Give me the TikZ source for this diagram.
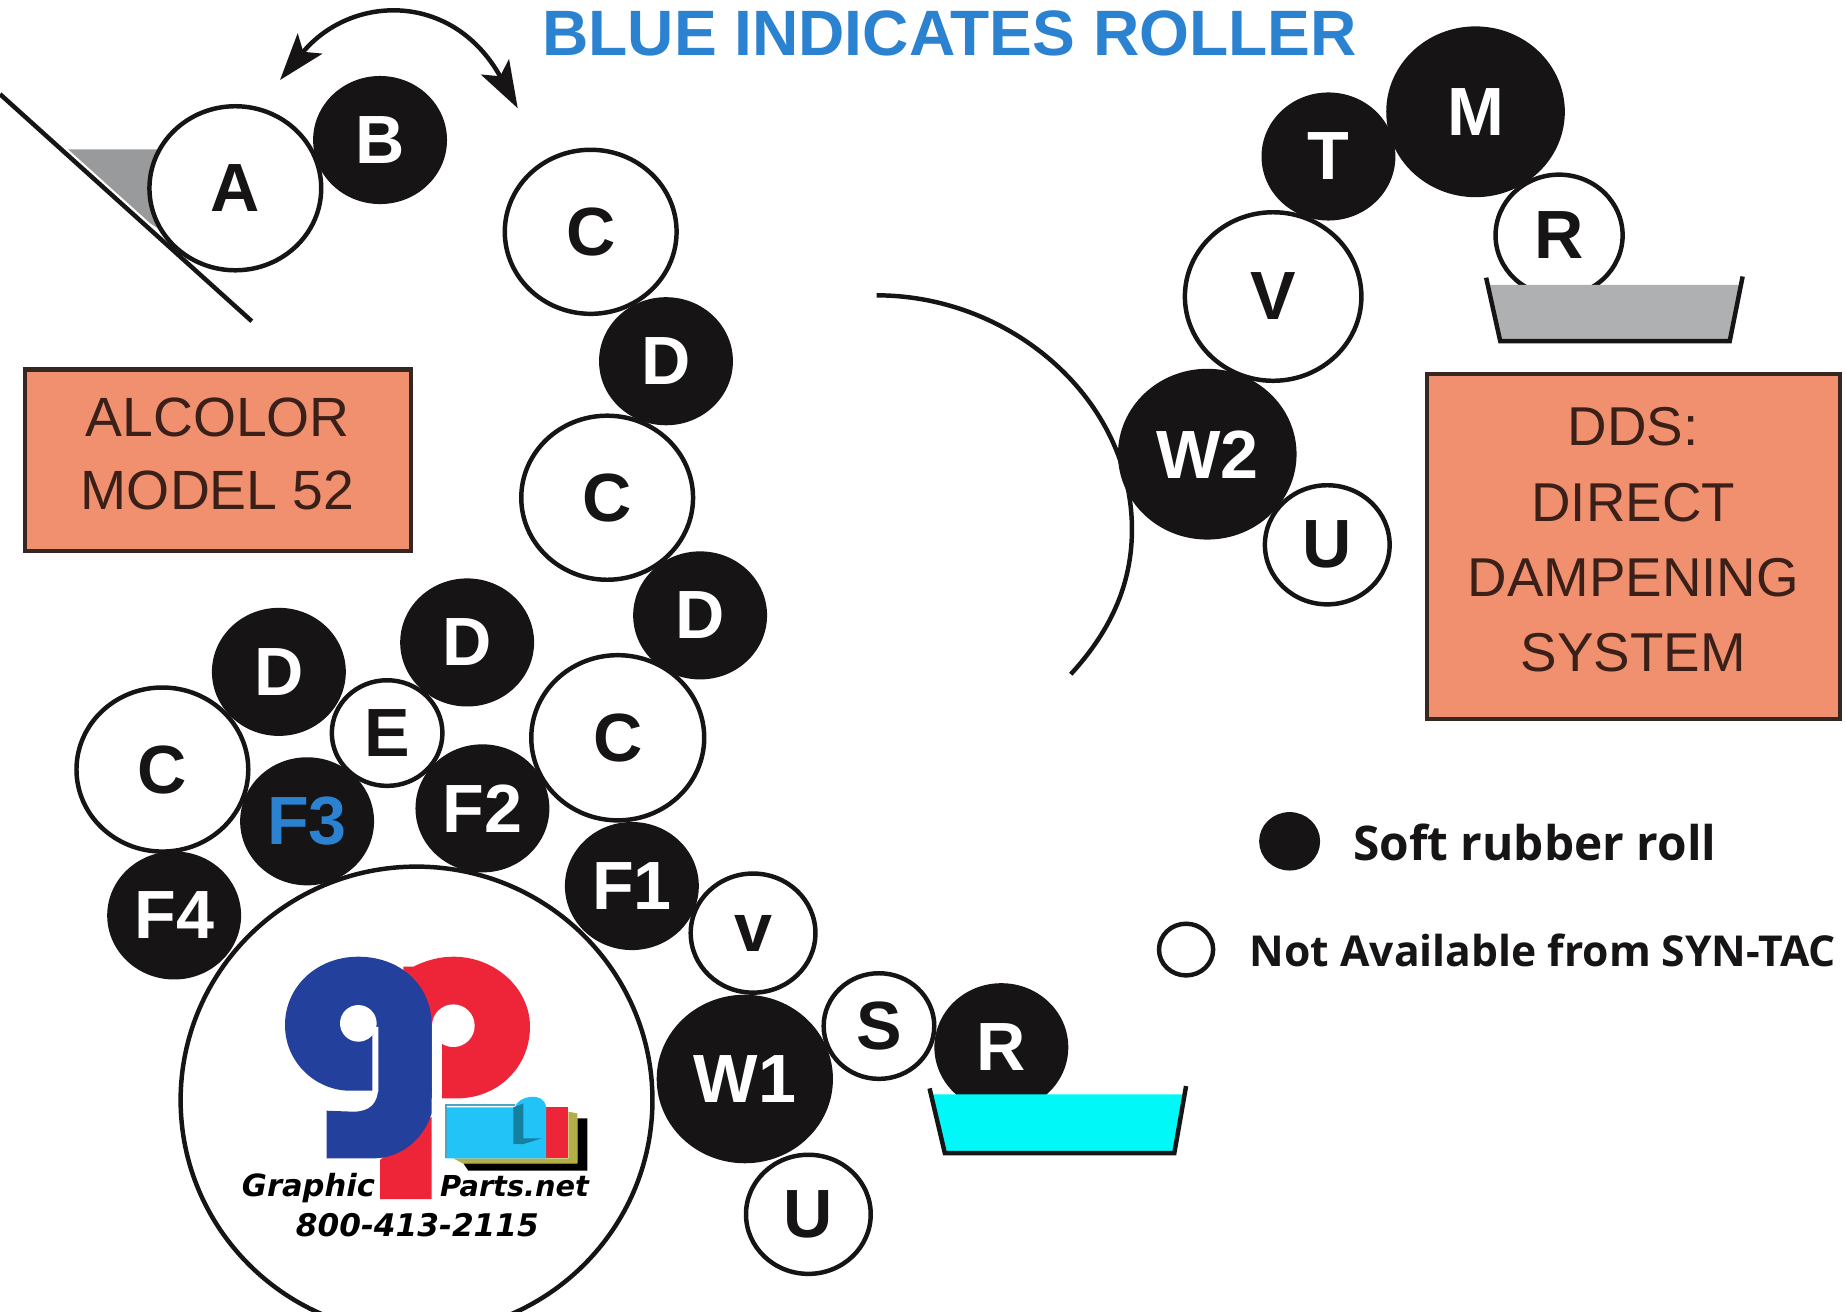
\documentclass[tikz,border=0pt]{standalone}
\usepackage{fontspec}
\setmainfont{Liberation Sans}
\newfontfamily\legendfont{Open Sans}
\newfontfamily\logofont{DejaVu Sans}
\usetikzlibrary{arrows.meta,shapes.geometric}
\definecolor{boxfill}{HTML}{F0906F}
\definecolor{boxtext}{HTML}{3A2018}
\definecolor{titleblue}{HTML}{2A82D0}
\definecolor{rollblack}{HTML}{161414}
\definecolor{logoblue}{HTML}{22409C}
\definecolor{logored}{HTML}{EE2438}
\definecolor{logocyan}{HTML}{22C4F8}
\definecolor{traycyan}{HTML}{00F8F8}
\definecolor{traygray}{HTML}{AEB0B2}
\definecolor{bladegray}{HTML}{999A9C}
\tikzset{
  rollbase/.style={ellipse,inner sep=0pt,outer sep=0pt,line width=3.8pt,font=\fontsize{58}{58}\selectfont\bfseries},
  rs/.style={minimum width=#1 pt,minimum height=0.955*#1 pt},
  whiteroll/.style={rollbase,draw=rollblack,fill=white,text=rollblack},
  blackroll/.style={rollbase,draw=rollblack,fill=rollblack,text=white},
  labelbox/.style={draw=rollblack!85!boxfill,fill=boxfill,line width=3.6pt,inner sep=0pt},
  boxlabel/.style={text=boxtext,align=center,inner sep=0pt},
  thickline/.style={draw=rollblack,line width=3.8pt},
  tray/.style={draw=rollblack,line width=3.8pt,line join=miter},
  logotext/.style={font=\logofont\fontsize{25}{25}\selectfont\bfseries\itshape,text=black,inner sep=0pt},
  legendtext/.style={text=rollblack,anchor=west,inner sep=0pt}
}
\begin{document}
\begin{tikzpicture}[x=1pt,y=-1pt]
\useasboundingbox (0,0) rectangle (1568,1115);
\fill[white] (0,0) rectangle (1568,1115);

% title
\node[font=\fontsize{54.5}{54.5}\selectfont\bfseries,text=titleblue,inner sep=0pt] (title) at (807,28) {BLUE INDICATES ROLLER};

% blade and arrow
\fill[bladegray] (58,127) -- (140,127) -- (140,198) -- (128,190) -- cycle;
\draw[thickline] (0,80) -- (214,273);
\draw[thickline,{Stealth[length=40pt,width=27pt,inset=9pt]}-{Stealth[length=40pt,width=27pt,inset=9pt]}]
  (238,68) .. controls (298,-5) and (385,-8) .. (440,92);

% rollers behind the logo roller
\node[whiteroll,rs=146] (C4) at (138,654) {C};
\node[blackroll,rs=110] (F4) at (148,778) {F4};
\node[blackroll,rs=110,text=titleblue] (F3) at (261,698) {F3};
\node[whiteroll,rs=94] (E) at (329,623) {E};
\node[blackroll,rs=110] (D3) at (397,546) {D};
\node[blackroll,rs=110] (D4) at (237,571) {D};
\node[blackroll,rs=110] (F2) at (410,687) {F2};

% logo roller
\node[whiteroll,minimum width=401pt,minimum height=397pt] (big) at (354,935) {};
\begin{scope}[shift={(144.47,764.9)},x=0.2833pt,y=-0.2833pt]
  % red p
  \fill[logored] (700,200) -- (730,200) .. controls (770,180) and (810,170) .. (850,170)
     .. controls (975,170) and (1080,265) .. (1080,380)
     .. controls (1080,500) and (985,595) .. (860,595) -- (700,595) -- cycle;
  \fill[logored] (630,780) -- (785,650) -- (785,897) -- (630,897) -- cycle;
  \fill[white] (850,377) circle[radius=64];
  \fill[white] (785,377) rectangle (815,900);
  % blue g
  \fill[logoblue] (785,375) .. controls (785,255) and (690,170) .. (565,170)
     .. controls (440,170) and (345,260) .. (345,375)
     .. controls (345,490) and (440,572) .. (540,572) -- (785,572) -- cycle;
  \fill[logoblue] (785,560) -- (785,640) .. controls (760,720) and (690,775) .. (610,775)
     -- (470,775) -- (470,632) -- (550,635) .. controls (600,635) and (625,610) .. (625,560) -- cycle;
  \fill[white] (565,370) circle[radius=55];
  \fill[white] (565,390) -- (607,390) -- (607,575) -- (625,575) -- (625,380) -- cycle;
  % sheets
  \fill[black] (880,790) -- (1222,790) -- (1222,655) -- (1252,655) -- (1252,812) -- (895,812) -- cycle;
  \fill[olive!45!yellow!60!gray] (850,775) -- (1195,775) -- (1195,635) -- (1222,640) -- (1222,790) -- (878,790) -- cycle;
  \fill[logored] (1125,620) -- (1195,620) -- (1195,775) -- (1125,775) -- cycle;
  \fill[logocyan] (828,622) -- (1035,622) .. controls (1040,590) and (1120,570) .. (1128,620) -- (1128,775) -- (828,775) -- cycle;
  \fill[logocyan!65!black] (1030,622) -- (1060,610) -- (1060,715) -- (1115,715) -- (1060,732) -- (1030,732) -- cycle;
  \draw[logocyan!55!gray,line width=1.5pt] (828,775) -- (828,615) -- (1035,615);
  % text
  \node[logotext,font=\logofont\fontsize{26}{26}\selectfont\bfseries\itshape,anchor=base west] (gtext) at (215,890) {Graphic};
  \node[logotext,font=\logofont\fontsize{24.5}{25}\selectfont\bfseries\itshape,anchor=base west] (ptext) at (810,890) {Parts.net};
  \node[logotext,font=\logofont\fontsize{26.5}{26}\selectfont\bfseries\itshape,anchor=base] (phone) at (742,1010) {800-413-2115};
\end{scope}

% remaining left rollers
\node[whiteroll,rs=146] (A) at (200,160) {A};
\node[blackroll,rs=110] (B) at (323,119) {B};
\node[whiteroll,rs=146] (C1) at (502,197) {C};
\node[blackroll,rs=110] (D1) at (566,307) {D};
\node[whiteroll,rs=146] (C2) at (516,423) {C};
\node[whiteroll,rs=147] (C3) at (525,627) {C};
\node[blackroll,rs=110] (D2) at (595,523) {D};
\node[blackroll,rs=110] (F1) at (537,753) {F1};
\node[blackroll,rs=110] (R1) at (851,890) {R};
\node[blackroll,rs=146] (W1) at (633,917) {W1};
\node[whiteroll,rs=106] (v) at (640,793) {v};
\node[whiteroll,rs=106] (U1) at (687,1032) {U};
\node[whiteroll,rs=94] (S) at (747,872) {S};

% cyan tray
\path[fill=traycyan] (792,930) -- (805,980) -- (998,980) -- (1006,930) -- cycle;
\draw[tray] (790,925) -- (803,980) -- (998,980) -- (1008,923);

% right rollers
\draw[thickline] (745,251) .. controls (860,251) and (962,340) .. (962,450) .. controls (962,495) and (945,535) .. (910,573);
\node[blackroll,rs=148] (W2) at (1026,386) {W2};
\node[whiteroll,rs=150] (V) at (1082,252) {V};
\node[whiteroll,rs=106] (U2) at (1128,463) {U};
\node[blackroll,rs=110] (T) at (1129,133) {T};
\node[blackroll,rs=148] (M) at (1254,95) {M};
\node[whiteroll,rs=108] (R2) at (1325,200) {R};

% grey tray
\path[fill=traygray] (1265,242) -- (1275,290) -- (1470,290) -- (1479,242) -- cycle;
\draw[tray] (1263,236) -- (1275,290) -- (1470,290) -- (1481,235);

% boxes
\node[labelbox,minimum width=328pt,minimum height=154pt] (alcolor) at (185,391) {};
\node[boxlabel,font=\fontsize{47}{62}\selectfont] (alcolortext) at (185,386) {ALCOLOR\\MODEL 52};
\node[labelbox,minimum width=351pt,minimum height=293pt] (dds) at (1388.5,464.5) {};
\node[boxlabel,font=\fontsize{46.5}{64}\selectfont] (ddstext) at (1388,459) {DDS:\\DIRECT\\DAMPENING\\SYSTEM};

% legend
\node[blackroll,rs=48] (lb) at (1096,715) {};
\node[whiteroll,rs=46] (lw) at (1008,807) {};
\node[legendtext,font=\legendfont\fontsize{40.6}{41}\selectfont\bfseries] (lbt) at (1150,716) {Soft rubber roll};
\node[legendtext,font=\legendfont\fontsize{36.2}{37}\selectfont\bfseries] (lwt) at (1062,808) {Not Available from SYN-TAC};
\end{tikzpicture}
\end{document}
